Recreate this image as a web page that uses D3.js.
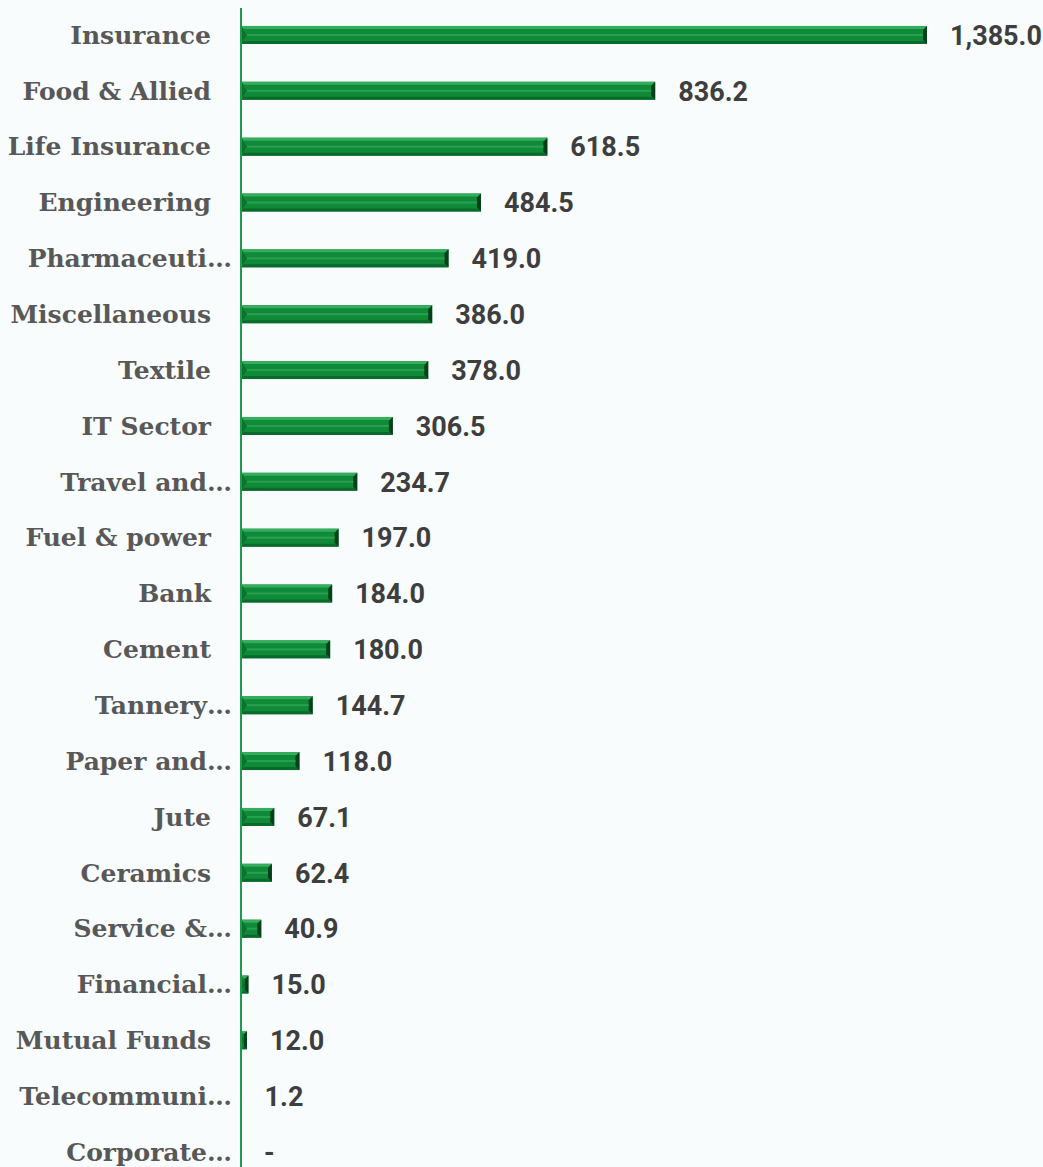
<!DOCTYPE html>
<html>
<head>
<meta charset="utf-8">
<script src="https://cdn.jsdelivr.net/npm/d3@7"></script>
<style>
  html, body { margin: 0; padding: 0; background: #f8fcfd; }
  svg { display: block; }
  .cat { font-family: "DejaVu Serif", serif; font-weight: bold; font-size: 25px; fill: #585858; }
  .val { font-family: Roboto, sans-serif; font-weight: bold; font-size: 27px; fill: #3e3e3e; }
</style>
</head>
<body>
<svg id="chart"></svg>
<script>
let categories = ["Insurance","Food & Allied","Life Insurance","Engineering","Pharmaceuti…","Miscellaneous",
    "Textile","IT Sector","Travel and…","Fuel & power","Bank","Cement","Tannery…","Paper and…",
    "Jute","Ceramics","Service &…","Financial…","Mutual Funds","Telecommuni…","Corporate…"];
let values = [1385.0, 836.2, 618.5, 484.5, 419.0, 386.0, 378.0, 306.5, 234.7, 197.0, 184.0, 180.0,
    144.7, 118.0, 67.1, 62.4, 40.9, 15.0, 12.0, 1.2, 0];

let width = 1043,
    height = 1167,
    axisX = 241,
    svg = d3.select("#chart").attr("width", width).attr("height", height),
    xScale = d3.scaleLinear([0, 1385], [axisX, 927]),
    yScale = d3.scaleBand(categories, [7, 1180]).paddingInner(0.678).paddingOuter(0.339),
    fmt = d3.format(",.1f");

let bh = yScale.bandwidth(), bev = 3;

// bars, drawn as a bevelled block
let g = svg.append("g");
let bars = g.selectAll(".bar")
    .data(values)
    .enter()
    .append("g")
    .attr("class", "bar")
    .attr("transform", function(d, i){ return "translate(" + axisX + "," + yScale(categories[i]) + ")"; })
    .filter(function(d){ return d > 0; });

bars.append("rect")
    .attr("width", function(d){ return xScale(d) - axisX; })
    .attr("height", bh)
    .attr("fill", "#0f8a39");
// top bevel
bars.append("path")
    .attr("fill", "#35ad5c")
    .attr("d", function(d){
        let w = xScale(d) - axisX, b = Math.min(bev, w / 2);
        return "M0,0H" + w + "L" + (w - b) + "," + b + "H" + b + "Z";
    });
// bottom bevel
bars.append("path")
    .attr("fill", "#0a6a2b")
    .attr("d", function(d){
        let w = xScale(d) - axisX, b = Math.min(bev, w / 2);
        return "M0," + bh + "H" + w + "L" + (w - b) + "," + (bh - b) + "H" + b + "Z";
    });
// left end
bars.append("path")
    .attr("fill", "#0c7230")
    .attr("d", function(d){
        let w = xScale(d) - axisX, b = Math.min(6, w / 2);
        return "M0,0L" + b + "," + (bh / 2) + "L0," + bh + "Z";
    });
// right end
bars.append("path")
    .attr("fill", "#06401b")
    .attr("d", function(d){
        let w = xScale(d) - axisX, b = Math.min(4, w / 2);
        return "M" + w + ",0V" + bh + "L" + (w - b) + "," + (bh - b) + "V" + b + "Z";
    });
// middle highlight stripe
bars.append("rect")
    .attr("x", function(d){ return Math.min(6, (xScale(d) - axisX) / 2); })
    .attr("y", bh / 2 - 1)
    .attr("width", function(d){ return Math.max(0, xScale(d) - axisX - 10); })
    .attr("height", 2)
    .attr("fill", "#2a9f50");

// category axis
let yAxis = d3.axisLeft(yScale).tickSize(0).tickPadding(0);
let ax = svg.append("g").attr("transform", "translate(" + axisX + ",0)").call(yAxis);
ax.select(".domain").remove();
ax.selectAll("text")
    .attr("class", "cat")
    .attr("fill", null)
    .attr("font-size", null)
    .attr("font-family", null)
    .attr("x", function(d){ return d.endsWith("…") ? -9 : -30; })
    .attr("dy", "0.35em");
svg.append("line")
    .attr("x1", axisX).attr("x2", axisX)
    .attr("y1", 8).attr("y2", height)
    .attr("stroke", "#1e9a4a")
    .attr("stroke-width", 2);

// value labels
svg.append("g").selectAll(".val")
    .data(values)
    .enter()
    .append("text")
    .attr("class", "val")
    .attr("x", function(d){ return xScale(d) + 23; })
    .attr("y", function(d, i){ return yScale(categories[i]) + bh / 2; })
    .attr("dy", "0.36em")
    .text(function(d){ return d === 0 ? "-" : fmt(d); });
</script>
</body>
</html>
